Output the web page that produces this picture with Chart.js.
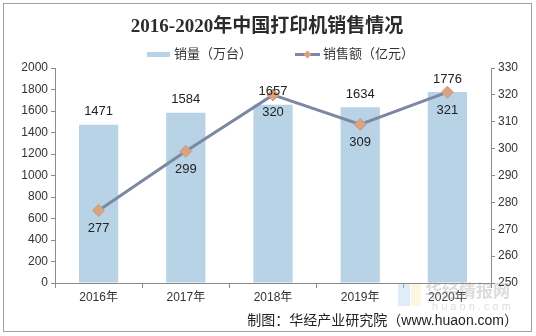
<!DOCTYPE html>
<html>
<head>
<meta charset="utf-8">
<script src="https://cdn.jsdelivr.net/npm/chart.js@4.4.1/dist/chart.umd.min.js"></script>
<style>
  html, body { margin: 0; padding: 0; background: #fff; }
</style>
</head>
<body>
<canvas id="printerChart" width="536" height="336"></canvas>
<script>
'use strict';

// Data
const years = ['2016年', '2017年', '2018年', '2019年', '2020年'];
const salesVolume = [1471, 1584, 1657, 1634, 1776];   // 销量（万台）
const salesValue = [277, 299, 320, 309, 321];          // 销售额（亿元）
const volumeTicks = [0, 2000, 200];
const valueTicks = [250, 330, 10];

const titleText = '2016-2020年中国打印机销售情况';
const sourceText = '制图：华经产业研究院（www.huaon.com）';

const barColor = '#b8d3e5';
const lineColor = '#7c88a3';
const markerColor = '#d9a382';
const axisColor = '#8a8a8a';
const textColor = '#333333';
const cjkFont = '"Liberation Sans", "Noto Sans CJK SC", sans-serif';

// title, legend, source and watermark
const decorPlugin = {
  id: 'decor',
  beforeDraw(chart) {
    const ctx = chart.ctx;
    ctx.save();
    ctx.fillStyle = '#fff';
    ctx.fillRect(0, 0, chart.width, chart.height);
    ctx.strokeStyle = '#a0a0a0';
    ctx.lineWidth = 1;
    ctx.strokeRect(3.5, 3.5, 528, 328);
    ctx.restore();
  },
  afterDraw(chart) {
    const ctx = chart.ctx;
    ctx.save();
    ctx.fillStyle = '#2b2b2b';
    ctx.textAlign = 'center';
    ctx.textBaseline = 'middle';
    ctx.font = 'bold 19px "Liberation Serif", "Noto Sans CJK SC", serif';
    ctx.fillText(titleText, 267, 27);

    // legend
    ctx.font = '13px ' + cjkFont;
    ctx.textAlign = 'left';
    const ds = chart.data.datasets;
    ctx.fillStyle = barColor;
    ctx.fillRect(147, 52, 23, 5);
    ctx.fillStyle = textColor;
    ctx.fillText(ds[1].label, 174, 54);

    ctx.strokeStyle = lineColor;
    ctx.lineWidth = 3;
    ctx.beginPath();
    ctx.moveTo(295, 54.5);
    ctx.lineTo(320, 54.5);
    ctx.stroke();
    ctx.fillStyle = markerColor;
    ctx.beginPath();
    ctx.moveTo(307.5, 50.5);
    ctx.lineTo(311.5, 54.5);
    ctx.lineTo(307.5, 58.5);
    ctx.lineTo(303.5, 54.5);
    ctx.closePath();
    ctx.fill();
    ctx.fillStyle = textColor;
    ctx.fillText(ds[0].label, 323, 54);

    // source
    ctx.font = '14px ' + cjkFont;
    ctx.fillStyle = '#222';
    ctx.textAlign = 'right';
    ctx.fillText(sourceText, 518, 321);

    // watermark
    ctx.globalAlpha = 0.35;
    ctx.fillStyle = '#a9c9ef';
    ctx.fillRect(398, 284, 12, 22);
    ctx.fillStyle = '#f3e7a8';
    ctx.fillRect(411, 284, 10, 22);
    ctx.fillStyle = '#9a9a9a';
    ctx.font = 'bold 17px "Noto Sans CJK SC", sans-serif';
    ctx.textAlign = 'left';
    ctx.fillText('华经情报网', 425, 291);
    ctx.font = '11px "Liberation Sans", sans-serif';
    ctx.fillText('h u a o n . c o m', 432, 307);
    ctx.restore();
  }
};

// value labels from element positions
const labelPlugin = {
  id: 'valueLabels',
  afterDatasetsDraw(chart) {
    const ctx = chart.ctx;
    ctx.save();
    ctx.font = '13px "Liberation Sans", sans-serif';
    ctx.fillStyle = '#222';
    ctx.textAlign = 'center';
    ctx.textBaseline = 'middle';
    chart.getDatasetMeta(1).data.forEach((bar, i) => {
      ctx.fillText(String(salesVolume[i]), bar.x, bar.y - 13);
    });
    chart.getDatasetMeta(0).data.forEach((pt, i) => {
      ctx.fillText(String(salesValue[i]), pt.x, pt.y + 18);
    });
    ctx.restore();
  }
};

const plainTick = function (val) {
  return String(val);
};

const ctx = document.getElementById('printerChart').getContext('2d');
new Chart(ctx, {
  data: {
    labels: years,
    datasets: [
      {
        type: 'line',
        label: '销售额（亿元）',
        data: salesValue,
        yAxisID: 'y1',
        borderColor: lineColor,
        borderWidth: 3,
        backgroundColor: markerColor,
        pointStyle: 'rectRot',
        pointRadius: 6,
        pointBorderColor: '#c99a86',
        pointBorderWidth: 1,
        tension: 0,
        order: 0
      },
      {
        type: 'bar',
        label: '销量（万台）',
        data: salesVolume,
        yAxisID: 'y',
        backgroundColor: barColor,
        barPercentage: 0.45,
        categoryPercentage: 1,
        order: 1
      }
    ]
  },
  options: {
    responsive: false,
    animation: false,
    devicePixelRatio: 1,
    layout: { padding: { left: 8, right: 10, top: 68, bottom: 31 } },
    plugins: {
      legend: { display: false },
      title: { display: false },
      tooltip: { enabled: false }
    },
    scales: {
      x: {
        grid: { display: true, drawOnChartArea: false, drawTicks: true, tickLength: 5, color: axisColor, offset: true },
        border: { display: true, color: axisColor },
        ticks: { color: textColor, font: { size: 12, family: cjkFont }, padding: 2, maxRotation: 0 },
        afterFit(scale) { scale.height = 22; }
      },
      y: {
        position: 'left',
        min: volumeTicks[0],
        max: volumeTicks[1],
        grid: { display: true, drawOnChartArea: false, drawTicks: true, tickLength: 4, color: axisColor },
        border: { display: true, color: axisColor },
        ticks: { stepSize: volumeTicks[2], callback: plainTick, color: textColor, font: { size: 12, family: '"Liberation Sans", sans-serif' }, padding: 3 },
        afterFit(scale) { scale.width = 47; }
      },
      y1: {
        position: 'right',
        min: valueTicks[0],
        max: valueTicks[1],
        grid: { display: true, drawOnChartArea: false, drawTicks: true, tickLength: 4, color: axisColor },
        border: { display: true, color: axisColor },
        ticks: { stepSize: valueTicks[2], callback: plainTick, color: textColor, font: { size: 12, family: '"Liberation Sans", sans-serif' }, padding: 3 },
        afterFit(scale) { scale.width = 35; }
      }
    }
  },
  plugins: [decorPlugin, labelPlugin]
});
</script>
</body>
</html>
